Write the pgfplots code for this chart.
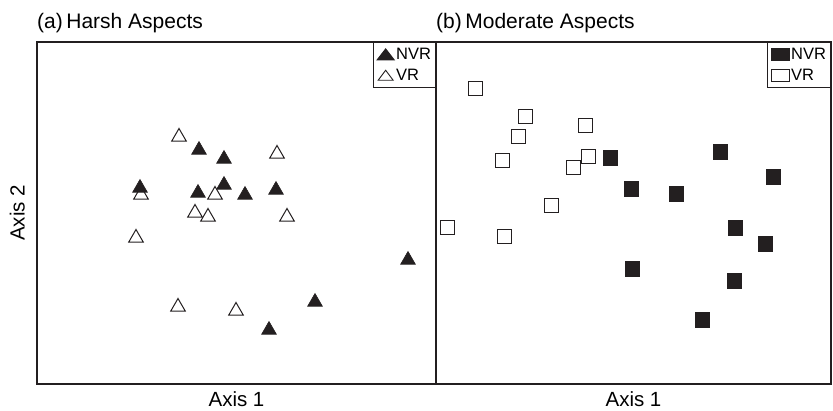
\documentclass[border=0pt]{standalone}
\usepackage{pgfplots}
\pgfplotsset{compat=1.18}
\usepackage{fontspec}
\setmainfont{Liberation Sans}
\definecolor{ink}{RGB}{35,31,32}

% both panels share one frame style; data are in picture units (y negated)
\pgfplotsset{
  panel/.style={
    scale only axis,
    height=342pt,
    ymin=-384, ymax=-42,
    xtick=\empty, ytick=\empty,
    axis line style={ink, line width=1.2pt},
    every axis title/.style={at={(0,1)}, anchor=base west, yshift=13pt,
      inner sep=0pt, font=\fontsize{21}{24}\selectfont},
    every axis x label/.style={at={(0.5,0)}, anchor=base, yshift=-23pt,
      inner sep=0pt, font=\fontsize{20.5}{24}\selectfont},
    every axis y label/.style={at={(0,0.5)}, anchor=south, rotate=90,
      yshift=12pt, inner sep=0pt, font=\fontsize{20.5}{24}\selectfont},
    legend style={at={(1,1)}, anchor=north east, draw=ink, line width=1pt,
      font=\fontsize{16.5}{19}\selectfont, inner xsep=3pt, inner ysep=4pt,
      nodes={inner sep=1.5pt}, row sep=5pt},
    legend cell align=left,
  },
  nvr tri/.style={only marks, mark=triangle*, mark size=8.5pt,
    mark options={fill=ink, draw=ink, line width=0.6pt},
    legend image code/.code={\draw[fill=ink, draw=ink] (0pt,-5.5pt) -- (17pt,-5.5pt) -- (8.5pt,5.5pt) -- cycle;}},
  vr tri/.style={only marks, mark=triangle, mark size=8.5pt,
    mark options={draw=ink, line width=1pt},
    legend image code/.code={\draw[draw=ink, line width=0.9pt] (1pt,-5pt) -- (16pt,-5pt) -- (8.5pt,5pt) -- cycle;}},
  nvr sq/.style={only marks, mark=square*, mark size=7.2pt,
    mark options={fill=ink, draw=ink, line width=0.6pt},
    legend image code/.code={\draw[fill=ink, draw=ink] (0pt,-6pt) rectangle (18pt,6pt);}},
  vr sq/.style={only marks, mark=square, mark size=7pt,
    mark options={draw=ink, line width=1pt},
    legend image code/.code={\draw[draw=ink, line width=0.9pt] (0pt,-6pt) rectangle (18pt,6pt);}},
}

\begin{document}
\begin{tikzpicture}
\useasboundingbox (0,0) rectangle (833pt,411pt);

\begin{axis}[panel,
  at={(37pt,27pt)}, anchor=south west,
  width=399pt, xmin=37, xmax=436,
  title={(a)\,Harsh Aspects},
  xlabel={Axis 1}, ylabel={Axis 2},
]
\addplot[nvr tri] coordinates {
  (199,-150) (224,-159) (140,-188) (198,-193) (224,-185)
  (245,-195) (276,-190) (408,-260) (315,-302) (269,-330)
};
\addplot[vr tri] coordinates {
  (179,-137) (277,-154) (141,-195) (215,-195) (195,-213)
  (208,-217) (287,-217) (136,-238) (178,-307) (236,-311)
};
\legend{NVR, VR}
\end{axis}

\begin{axis}[panel,
  at={(436pt,27pt)}, anchor=south west,
  width=395pt, xmin=436, xmax=831,
  title={(b)\,Moderate Aspects},
  xlabel={Axis 1},
]
\addplot[nvr sq] coordinates {
  (610,-158) (720,-152) (773,-177) (631,-189) (676,-194)
  (735,-228) (765,-244) (632,-269) (734,-281) (702,-320)
};
\addplot[vr sq] coordinates {
  (475,-89) (525,-117) (585,-126) (518,-137) (502,-161)
  (588,-157) (573,-168) (551,-206) (447,-228) (504,-237)
};
\legend{NVR, VR}
\end{axis}
\end{tikzpicture}
\end{document}
